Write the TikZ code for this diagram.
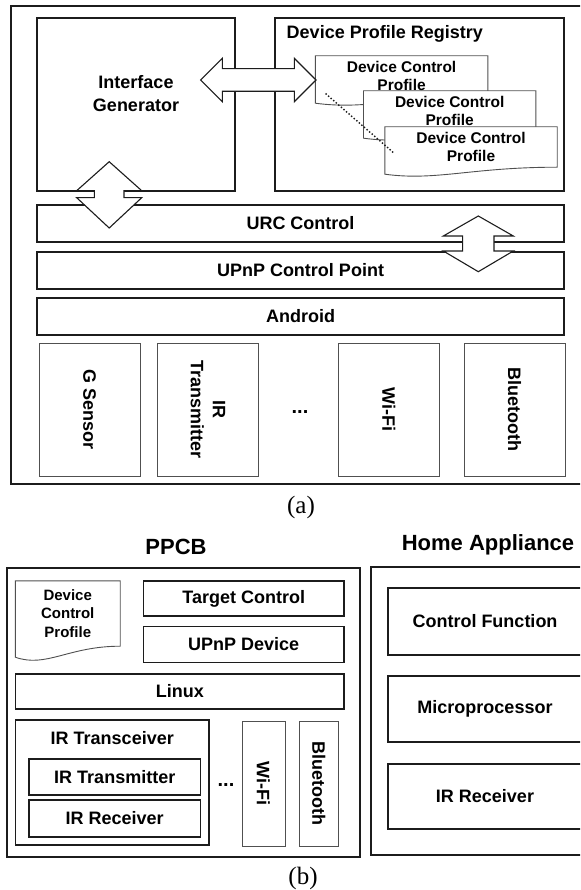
\documentclass[tikz,border=0pt]{standalone}
\usepackage{fontspec}
\setmainfont{Liberation Serif}
\setsansfont{Liberation Sans}
\definecolor{BoxLine}{HTML}{1C1C1C}
\definecolor{ThinLine}{HTML}{505050}
\usetikzlibrary{positioning}

\begin{document}
\begin{tikzpicture}[x=1pt, y=-1pt,
  panelbox/.style={draw=BoxLine, line width=1.6pt, inner sep=0pt},
  layerbox/.style={draw=BoxLine, line width=1.6pt, inner sep=0pt, minimum height=37pt, font=\sffamily\bfseries\fontsize{18}{23}\selectfont},
  thinbox/.style={draw=ThinLine, line width=0.9pt, inner sep=0pt, align=center, font=\sffamily\bfseries\fontsize{18}{22}\selectfont},
  sensor/.style={thinbox, rotate=-90, minimum width=133pt, minimum height=101pt},
  docbox/.style={inner sep=0pt, minimum width=172pt, minimum height=40pt},
  doctext/.style={align=center, font=\sffamily\bfseries\fontsize{15.5}{17.5}\selectfont},
  docline/.style={draw=ThinLine, line width=0.9pt, fill=white},
  blockarrow/.style={draw=BoxLine, line width=1.1pt, fill=white, line join=miter},
  lbl/.style={align=center, font=\sffamily\bfseries\fontsize{18}{23}\selectfont},
  titletext/.style={font=\sffamily\bfseries\fontsize{22}{26}\selectfont},
  dotsym/.style={font=\sffamily\bfseries\fontsize{20}{24}\selectfont},
  subcap/.style={font=\rmfamily\fontsize{25}{28}\selectfont},
]
\useasboundingbox (0,0) rectangle (580,890);
\fill[white] (0,0) rectangle (580,890);
\clip (0,0) rectangle (580,890);

% (a)
\node[panelbox, minimum width=579pt, minimum height=478pt] (outa) at (300.5,245) {};
\node[panelbox, minimum width=198pt, minimum height=173pt] (ig) at (136,104.5) {};
\node[lbl] (igtext) at ([yshift=11pt]ig.center) {Interface\\Generator};
\node[panelbox, minimum width=289pt, minimum height=173pt] (dpr) at (419.5,104.5) {};
\node[lbl, anchor=west] (dprtext) at ([xshift=9pt,yshift=-17pt]dpr.north west) {Device Profile Registry};

\node[docbox] (p1) at (401.6,76) {};
\draw[docline] (p1.north west) -- (p1.north east) -- (p1.south east) .. controls +(-86,0) and +(51.6,7) .. ([yshift=-7pt]p1.south west) -- cycle;
\node[doctext] (p1t) at (p1) {Device Control\\Profile};
\node[docbox] (p2) at (449.7,111) {};
\draw[docline] (p2.north west) -- (p2.north east) -- (p2.south east) .. controls +(-86,0) and +(51.6,7) .. ([yshift=-7pt]p2.south west) -- cycle;
\node[doctext] (p2t) at (p2) {Device Control\\Profile};
\node[docbox] (p3) at (471,147) {};
\draw[docline] (p3.north west) -- (p3.north east) -- (p3.south east) .. controls +(-86,0) and +(51.6,7) .. ([yshift=-7pt]p3.south west) -- cycle;
\node[doctext] (p3t) at (p3) {Device Control\\Profile};
\coordinate (dotA) at (326,94);
\coordinate (dotB) at (395,154);
\draw[BoxLine, line width=2pt, dash pattern=on 0pt off 3.4pt, line cap=round] (dotA) -- (dotB);

\node[layerbox, minimum width=527pt] (urc) at (300.5,223.5) {URC Control};
\node[layerbox, minimum width=527pt] (upnp) at (300.5,270.5) {UPnP Control Point};
\node[layerbox, minimum width=527pt] (android) at (300.5,316.5) {Android};

\node[sensor] (gsen) at (89.5,409.5) {G Sensor};
\node[sensor] (irtx) at (208,409.5) {IR\\Transmitter};
\node[dotsym] (adots) at (300,412) {...};
\node[sensor] (wifi) at (389,409.5) {Wi-Fi};
\node[sensor] (bt) at (514.5,409.5) {Bluetooth};

\draw[blockarrow] (200.7,80) -- (222.3,58.3) -- (222.3,68.7) -- (294.3,68.7) -- (294.3,58.3)
  -- (316,80) -- (294.3,101.7) -- (294.3,91.3) -- (222.3,91.3) -- (222.3,101.7) -- cycle;
\draw[blockarrow] (109.2,161.7) -- (141.7,190.7) -- (124,190.7) -- (124,197.7) -- (141.7,197.7)
  -- (109.2,228) -- (76.7,197.7) -- (94.4,197.7) -- (94.4,190.7) -- (76.7,190.7) -- cycle;
\draw[blockarrow] (478.3,216) -- (513.3,236) -- (494,236) -- (494,251) -- (513.3,251)
  -- (478.3,271.7) -- (443.3,251) -- (462.6,251) -- (462.6,236) -- (443.3,236) -- cycle;

\node[subcap] (capa) at (301,507) {(a)};

% (b)
\node[titletext] (ppcbtitle) at (176,547) {PPCB};
\node[titletext] (hatitle) at (488,545) {Home Appliance};
\node[panelbox, minimum width=353pt, minimum height=289pt] (ppcb) at (183.2,712.5) {};
\node[panelbox, minimum width=225pt, minimum height=288pt] (ha) at (483.5,711) {};

\node[docbox, minimum width=104.5pt, minimum height=65pt] (pd) at (67.75,613.5) {};
\draw[docline] (pd.north west) -- (pd.north east) -- (pd.south east) .. controls +(-52,0) and +(31,11) .. ([yshift=-11pt]pd.south west) -- cycle;
\node[doctext, font=\sffamily\bfseries\fontsize{15}{18.5}\selectfont] (pdt) at (pd) {Device\\Control\\Profile};

\node[layerbox, minimum width=200.5pt, minimum height=35pt] (tc) at (243.75,598.5) {Target Control};
\node[layerbox, minimum width=200.5pt, minimum height=36pt] (upnpd) at (243.75,644.5) {UPnP Device};
\node[layerbox, minimum width=328.5pt, minimum height=35pt] (linux) at (179.75,691.5) {Linux};
\node[panelbox, minimum width=193.5pt, minimum height=125pt] (xcv) at (112.25,782.5) {};
\node[lbl] (xcvtext) at ([yshift=-19pt]xcv.north) {IR Transceiver};
\node[layerbox, minimum width=171.5pt, minimum height=36pt] (irtxb) at (114.75,777) {IR Transmitter};
\node[layerbox, minimum width=171.5pt, minimum height=37pt] (irrxb) at (114.75,818.5) {IR Receiver};
\node[dotsym] (bdots) at (226,785) {...};
\node[sensor, minimum width=125pt, minimum height=43pt] (wifib) at (263.5,783.5) {Wi-Fi};
\node[sensor, minimum width=125pt, minimum height=39.5pt] (btb) at (318.75,783.5) {Bluetooth};

\node[layerbox, minimum width=194pt, minimum height=67pt] (cf) at (485,621.5) {Control Function};
\node[layerbox, minimum width=194pt, minimum height=66pt] (mp) at (485,709) {Microprocessor};
\node[layerbox, minimum width=194pt, minimum height=65pt] (harx) at (485,796.5) {IR Receiver};

\node[subcap] (capb) at (303,878) {(b)};
\end{tikzpicture}
\end{document}
